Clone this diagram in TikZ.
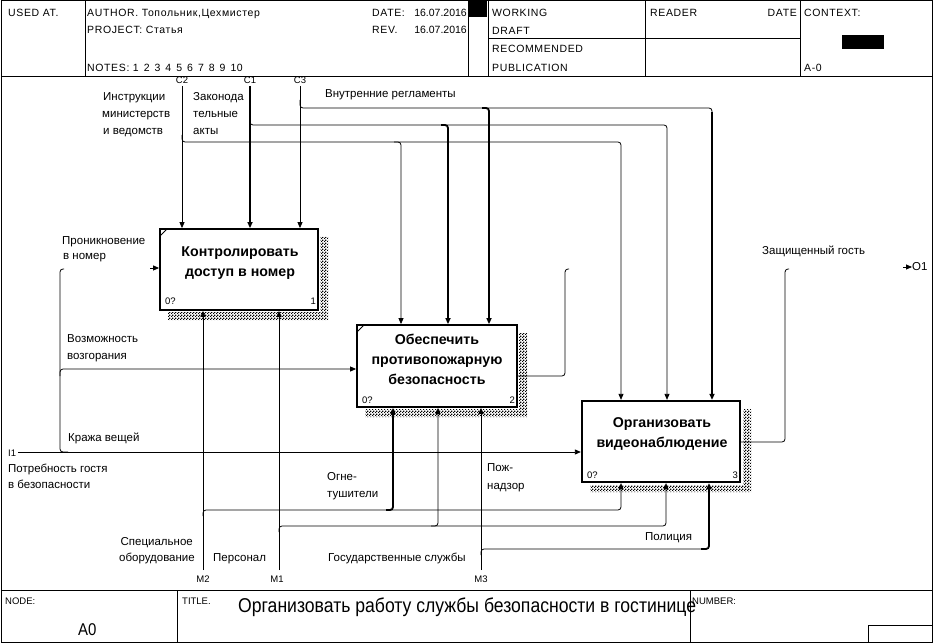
\documentclass[tikz,border=0pt]{standalone}
\usepackage{fontspec}
\setmainfont{Liberation Sans}
\newfontfamily\hfont[LetterSpace=6]{Liberation Sans}
\newfontfamily\titlefont[FakeStretch=0.88]{Liberation Sans}
\usetikzlibrary{arrows.meta,patterns}
\pgfdeclarepatternformonly{idefshade}{\pgfpointorigin}{\pgfpoint{3pt}{3pt}}{\pgfpoint{3pt}{3pt}}{%
  \pgfpathrectangle{\pgfpointorigin}{\pgfpoint{1.5pt}{1.5pt}}%
  \pgfpathrectangle{\pgfpoint{1.5pt}{1.5pt}}{\pgfpoint{1.5pt}{1.5pt}}%
  \pgfusepath{fill}}
\begin{document}
\begin{tikzpicture}[x=1pt,y=-1pt,
  hdr/.style={font=\hfont\fontsize{10.5}{12}\selectfont, inner sep=0pt, anchor=base west},
  lab/.style={font=\fontsize{11.5}{13}\selectfont, inner sep=0pt, anchor=base west},
  dat/.style={font=\fontsize{10.5}{12}\selectfont, inner sep=0pt, anchor=base east},
  tiny/.style={font=\fontsize{9.5}{11}\selectfont, inner sep=0pt, anchor=base west},
  boxtxt/.style={font=\bfseries\fontsize{14.2}{20}\selectfont, align=center, inner sep=0pt},
  proc/.style={draw, line width=1.8pt, inner sep=0pt},
  conn/.style={line width=0.8pt, rounded corners=3pt},
  heavy/.style={line width=1.8pt, rounded corners=3pt},
  arr/.style={-{Triangle[length=6pt,width=5pt]}},
  shade/.style={pattern=idefshade}
]
\useasboundingbox (0,0) rectangle (934,644);
\fill[white] (0,0) rectangle (934,644);

% ---------- frame and header ----------
\draw[line width=1pt] (1,1) rectangle (932,642);
\draw[line width=0.8pt] (1,76) -- (932,76);
\draw[line width=0.8pt] (85,1) -- (85,76) (468,1) -- (468,76) (488,1) -- (488,76)
  (645,1) -- (645,76) (800,1) -- (800,76) (488,38) -- (800,38);
\fill (468,1) rectangle (487,17);
\fill (842,35) rectangle (884,49);

\node[hdr] (usedat) at (8,17) {USED AT.};
\node[hdr] (author) at (87,17) {AUTHOR. Топольник,Цехмистер};
\node[hdr] (project) at (87,34) {PROJECT: Статья};
\node[hdr] (notes) at (87,72) {NOTES: 1\hspace{5pt}2\hspace{5pt}3\hspace{5pt}4\hspace{5pt}5\hspace{5pt}6\hspace{5pt}7\hspace{5pt}8\hspace{5pt}9\hspace{5pt}10};
\node[hdr] (date) at (372,17) {DATE:};
\node[dat] (dateval) at (467,17) {16.07.2016};
\node[hdr] (rev) at (372,34) {REV.};
\node[dat] (revval) at (467,34) {16.07.2016};
\node[hdr] (working) at (492,17) {WORKING};
\node[hdr] (draft) at (492,35) {DRAFT};
\node[hdr] (recom) at (492,53) {RECOMMENDED};
\node[hdr] (publ) at (492,72) {PUBLICATION};
\node[hdr] (reader) at (650,17) {READER};
\node[hdr, anchor=base east] (rdate) at (797,17) {DATE};
\node[hdr] (context) at (804,17) {CONTEXT:};
\node[hdr] (ctxnode) at (804,72) {A-0};

% ---------- footer ----------
\draw[line width=0.8pt] (1,590) -- (932,590) (177,590) -- (177,642) (690,590) -- (690,642)
  (868,642) |- (932,625);
\node[tiny] (nodelab) at (5,604) {NODE:};
\node[font=\titlefont\fontsize{17}{18}\selectfont, inner sep=0pt, anchor=base west] (nodeval) at (78,635) {A0};
\node[tiny] (titlelab) at (182,604) {TITLE.};
\node[font=\titlefont\fontsize{20}{22}\selectfont, inner sep=0pt, anchor=base west] (title) at (238,612) {Организовать работу службы безопасности в гостинице};
\node[tiny] (numlab) at (692,604) {NUMBER:};

% ---------- shadows ----------
\fill[shade] (320,237) rectangle (328,320) (168,312) rectangle (320,320);
\fill[shade] (519,333) rectangle (527,417) (365,409) rectangle (519,417);
\fill[shade] (743,409) rectangle (751,492) (590,485) rectangle (743,492);

% ---------- boxes ----------
\node[proc, minimum width=158pt, minimum height=81pt] (b1) at (239,269.5) {};
\node[proc, minimum width=160pt, minimum height=82pt] (b2) at (437,366) {};
\node[proc, line width=2.3pt, minimum width=158pt, minimum height=81pt] (b3) at (661,441.5) {};
\draw[line width=0.8pt] (160,236) -- (167,229);
\draw[line width=0.8pt] (357,332) -- (364,325);

\node[boxtxt] (t1) at (240,263) {Контролировать\\доступ в номер};
\node[boxtxt] (t2) at (437,359) {Обеспечить\\противопожарную\\безопасность};
\node[boxtxt] (t3) at (662,434) {Организовать\\видеонаблюдение};
\node[tiny] (c1a) at (165,305) {0?};
\node[tiny, anchor=base east] (n1) at (316,305) {1};
\node[tiny] (c2a) at (362,403) {0?};
\node[tiny, anchor=base east] (n2) at (515,403) {2};
\node[tiny] (c3a) at (587,478) {0?};
\node[tiny, anchor=base east] (n3) at (738,478) {3};

% ---------- controls ----------
\coordinate (C2) at (182,86);
\coordinate (C1) at (250,86);
\coordinate (C3) at (300,86);
\node[tiny, anchor=base] (C2l) at (182,84) {C2};
\node[tiny, anchor=base] (C1l) at (250,84) {C1};
\node[tiny, anchor=base] (C3l) at (300,84) {C3};
\draw[conn,arr] (C2) -- (C2 |- b1.north);
\draw[heavy,arr] (C1) -- (C1 |- b1.north);
\draw[conn,arr] (C3) -- (C3 |- b1.north);

% C3 branch
\draw[conn] (300,100) |- (712,108) -- (712,116);
\draw[heavy,arr] (482,108) -| (489,0 |- b2.north);
\draw[heavy,arr] (712,112) -- (712,0 |- b3.north);
% C1 branch
\draw[conn,arr] (250,118) |- (667,125) -- (667,0 |- b3.north);
\draw[heavy,arr] (441,125) -| (448,0 |- b2.north);
% C2 branch
\draw[conn,arr] (182,135) |- (621,142) -- (621,0 |- b3.north);
\draw[conn,arr] (394,142) -| (401,0 |- b2.north);

\node[lab] (l1) at (103,101) {Инструкции};
\node[lab] (l1b) at (102,118) {министерств};
\node[lab] (l1c) at (103,135) {и ведомств};
\node[lab] (l2) at (193,101) {Законода};
\node[lab] (l2b) at (193,118) {тельные};
\node[lab] (l2c) at (193,135) {акты};
\node[lab] (l3) at (325,98) {Внутренние регламенты};

% ---------- inputs ----------
\coordinate (I1) at (18,452);
\node[tiny, anchor=base west] (I1l) at (8,456) {I1};
\draw[conn,arr] (I1) -- (I1 -| b3.west);
\draw[conn] (68,452) -| (60,269) -- (64,269);
\coordinate (in2) at (60,369);
\draw[conn,arr] (60,376) |- (b2.west |- in2);
\coordinate (in1) at (150,268);
\draw[conn,arr] (in1) -- (b1.west |- in1);

\node[lab] (l4) at (62,245) {Проникновение};
\node[lab] (l4b) at (63,260) {в номер};
\node[lab] (l5) at (67,342) {Возможность};
\node[lab] (l5b) at (67,359) {возгорания};
\node[lab] (l6) at (68,441) {Кража вещей};
\node[lab] (l7) at (8,472) {Потребность гостя};
\node[lab] (l7b) at (8,488) {в безопасности};

% ---------- outputs ----------
\draw[conn] (b2.east |- 0,376) -- (565,376) -- (565,269) -- (569,269);
\draw[conn] (b3.east |- 0,442) -- (785,442) -- (785,269) -- (789,269);
\coordinate (O1) at (912,267);
\draw[conn,arr] (903,267) -- (O1);
\node[lab, anchor=base west] (O1l) at (912,271) {O1};
\node[lab] (l8) at (762,255) {Защищенный гость};

% ---------- mechanisms ----------
\coordinate (M2) at (203,570);
\coordinate (M1) at (279,570);
\coordinate (M3) at (481,570);
\node[tiny, anchor=base] (M2l) at (203,582) {M2};
\node[tiny, anchor=base] (M1l) at (277,582) {M1};
\node[tiny, anchor=base] (M3l) at (481,582) {M3};
\draw[conn,arr] (M2) -- (M2 |- b1.south);
\draw[conn,arr] (M1) -- (M1 |- b1.south);
\draw[conn,arr] (M3) -- (M3 |- b2.south);

\draw[conn,arr] (203,516) |- (621,510) -- (621,0 |- b3.south);
\draw[heavy,arr] (386,510) -| (393,0 |- b2.south);
\draw[conn,arr] (279,532) |- (666,526) -- (666,0 |- b3.south);
\draw[conn,arr] (431,526) -| (438,0 |- b2.south);
\draw[conn] (481,555) |- (705,549);
\draw[heavy,arr] (701,549) -| (709,0 |- b3.south);

\node[lab] (l9) at (327,480) {Огне-};
\node[lab] (l9b) at (327,497) {тушители};
\node[lab] (l10) at (487,471) {Пож-};
\node[lab] (l10b) at (487,489) {надзор};
\node[lab, anchor=base east] (l11) at (193,545) {Специальное};
\node[lab, anchor=base east] (l11b) at (195,561) {оборудование};
\node[lab] (l12) at (213,561) {Персонал};
\node[lab] (l13) at (328,561) {Государственные службы};
\node[lab] (l14) at (645,540) {Полиция};
\end{tikzpicture}
\end{document}
